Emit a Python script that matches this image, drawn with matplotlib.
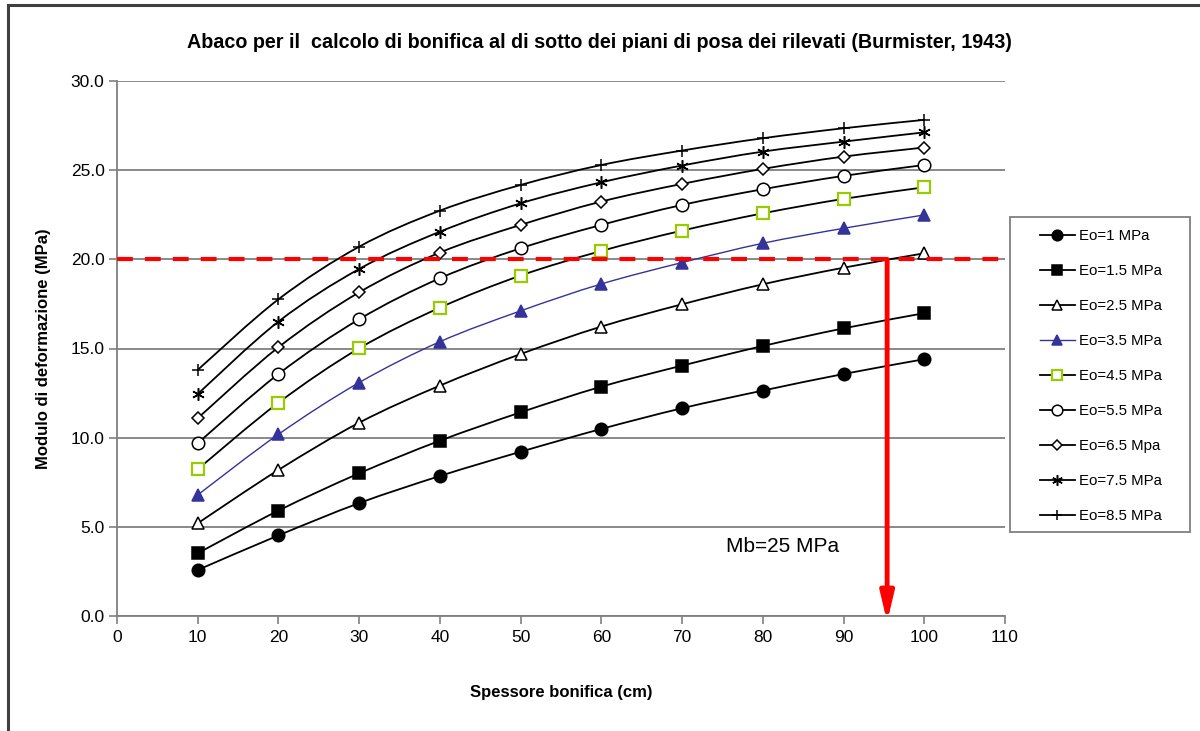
import numpy as np
import matplotlib
matplotlib.use("Agg")
import matplotlib.pyplot as plt
from matplotlib.path import Path
from matplotlib.patches import PathPatch, Rectangle
from matplotlib.lines import Line2D

plt.rcParams['font.family'] = ['Liberation Sans', 'DejaVu Sans']

spessore = [10, 20, 30, 40, 50, 60, 70, 80, 90, 100]

eo_1 = [2.58, 4.52, 6.33, 7.85, 9.21, 10.49, 11.65, 12.64, 13.57, 14.40]
eo_1_5 = [3.52, 5.91, 8.00, 9.83, 11.42, 12.86, 14.04, 15.14, 16.13, 16.98]
eo_2_5 = [5.20, 8.19, 10.84, 12.92, 14.69, 16.23, 17.48, 18.60, 19.53, 20.34]
eo_3_5 = [6.79, 10.19, 13.09, 15.38, 17.11, 18.62, 19.82, 20.90, 21.74, 22.49]
eo_4_5 = [8.23, 11.96, 15.01, 17.29, 19.09, 20.47, 21.61, 22.58, 23.39, 24.04]
eo_5_5 = [9.69, 13.57, 16.64, 18.94, 20.62, 21.93, 23.05, 23.93, 24.68, 25.29]
eo_6_5 = [11.09, 15.07, 18.15, 20.38, 21.93, 23.24, 24.23, 25.07, 25.76, 26.27]
eo_7_5 = [12.45, 16.51, 19.46, 21.55, 23.14, 24.32, 25.26, 26.04, 26.60, 27.12]
eo_8_5 = [13.80, 17.76, 20.71, 22.73, 24.17, 25.29, 26.10, 26.79, 27.35, 27.82]

labels = ["Eo=1 MPa", "Eo=1.5 MPa", "Eo=2.5 MPa", "Eo=3.5 MPa", "Eo=4.5 MPa",
          "Eo=5.5 MPa", "Eo=6.5 Mpa", "Eo=7.5 MPa", "Eo=8.5 MPa"]
series = [eo_1, eo_1_5, eo_2_5, eo_3_5, eo_4_5, eo_5_5, eo_6_5, eo_7_5, eo_8_5]

soglia_modulo = 20.0
spessore_lettura = 95.4
annotazione = "Mb=25 MPa"

x_ticks = list(range(0, 111, 10))
y_ticks = [0, 5, 10, 15, 20, 25, 30]

BLUE = "#333399"
GREEN = "#99CC00"
styles = [
    dict(color="black", marker="o", mfc="black", mec="black", ms=9),
    dict(color="black", marker="s", mfc="black", mec="black", ms=9),
    dict(color="black", marker="^", mfc="white", mec="black", ms=8.5),
    dict(color=BLUE, marker="^", mfc=BLUE, mec=BLUE, ms=8.5),
    dict(color="black", marker="s", mfc="white", mec=GREEN, ms=8.5),
    dict(color="black", marker="o", mfc="white", mec="black", ms=9),
    dict(color="black", marker="D", mfc="white", mec="black", ms=6),
    dict(color="black", marker=(6, 2, 0), mfc="black", mec="black", ms=9),
    dict(color="black", marker="+", mfc="black", mec="black", ms=8),
]


def smooth_path(xs, ys):
    pts = np.column_stack([xs, ys]).astype(float)
    n = len(pts)
    verts = [pts[0]]
    codes = [Path.MOVETO]
    for i in range(n - 1):
        p0 = pts[i - 1] if i > 0 else pts[i]
        p1 = pts[i]
        p2 = pts[i + 1]
        p3 = pts[i + 2] if i + 2 < n else pts[i + 1]
        c1 = p1 + (p2 - p0) / 6.0
        c2 = p2 - (p3 - p1) / 6.0
        verts += [c1, c2, p2]
        codes += [Path.CURVE4] * 3
    return Path(verts, codes)


fig = plt.figure(figsize=(12, 7.31), dpi=100)
ax = fig.add_axes([117 / 1200, 1 - 616 / 731, (1005 - 117) / 1200, (616 - 81) / 731])

handles = []
for ys, st, lab in zip(series, styles, labels):
    lw = 1.0 if st["color"] == BLUE else 1.3
    patch = PathPatch(smooth_path(spessore, ys), facecolor="none",
                      edgecolor=st["color"], lw=lw, zorder=3)
    ax.add_patch(patch)
    mew = 1.6 if st["mec"] == GREEN else 1.1
    ax.plot(spessore, ys, ls="none", marker=st["marker"], mfc=st["mfc"],
            mec=st["mec"], ms=st["ms"], mew=mew, zorder=4, clip_on=False)
    handles.append(Line2D([], [], color=st["color"], lw=lw, marker=st["marker"],
                          mfc=st["mfc"], mec=st["mec"], ms=st["ms"] * 0.85, mew=mew))

# red threshold line and arrow
ax.plot([0, 110], [soglia_modulo, soglia_modulo], color="#FF0000", lw=3,
        dashes=(3.8, 2.9), zorder=6, clip_on=False)
ax.annotate("", xy=(spessore_lettura, -0.35), xytext=(spessore_lettura, soglia_modulo),
            arrowprops=dict(arrowstyle="-|>,head_length=1.7,head_width=0.4",
                            color="#FF0000", lw=3.5, shrinkA=0, shrinkB=0),
            zorder=7, annotation_clip=False)
ax.text(75.5, 3.9, annotazione, fontsize=15, va="center", ha="left")

ax.set_xlim(0, 110)
ax.set_ylim(0, 30)
ax.set_xticks(x_ticks)
ax.set_yticks(y_ticks)
ax.set_yticklabels([f"{v:.1f}" for v in y_ticks])
ax.tick_params(axis="both", labelsize=12.5, colors="#808080", labelcolor="black",
               length=6, width=1.2, direction="out")
ax.tick_params(axis="x", pad=4)
ax.tick_params(axis="y", pad=3)
for s in ["top", "right"]:
    ax.spines[s].set_visible(False)
for s in ["left", "bottom"]:
    ax.spines[s].set_color("#808080")
    ax.spines[s].set_linewidth(1.3)
ax.yaxis.grid(True, color="#808080", lw=1.3)
ax.set_axisbelow(True)

ax.set_xlabel("Spessore bonifica (cm)", fontsize=12, fontweight="bold", labelpad=29)
ax.set_ylabel("Modulo di deformazione (MPa)", fontsize=12, fontweight="bold", labelpad=14)
fig.text(599 / 1200, 1 - 42 / 731,
         "Abaco per il  calcolo di bonifica al di sotto dei piani di posa dei rilevati (Burmister, 1943)",
         fontsize=14.2, fontweight="bold", ha="center", va="center")

# legend box and content
fig.add_artist(Rectangle((1010 / 1200, 1 - 532 / 731), 180 / 1200, 315 / 731,
                         transform=fig.transFigure, facecolor="white",
                         edgecolor="#808080", lw=1.3, zorder=1))
leg = fig.legend(handles=handles, labels=labels, loc="upper left",
                 bbox_to_anchor=(1040 / 1200, 1 - 229 / 731), fontsize=10.8,
                 frameon=False, handlelength=2.3, labelspacing=1.4,
                 borderpad=0, handletextpad=0.3, borderaxespad=0)
leg.set_zorder(2)

# figure border (left and top)
fig.add_artist(Line2D([8 / 1200, 8 / 1200], [0, 1 - 5 / 731], color="#404040", lw=2.2,
                      transform=fig.transFigure))
fig.add_artist(Line2D([8 / 1200, 1], [1 - 5 / 731, 1 - 5 / 731], color="#404040", lw=2.2,
                      transform=fig.transFigure))

fig.savefig("out.png", dpi=100)
